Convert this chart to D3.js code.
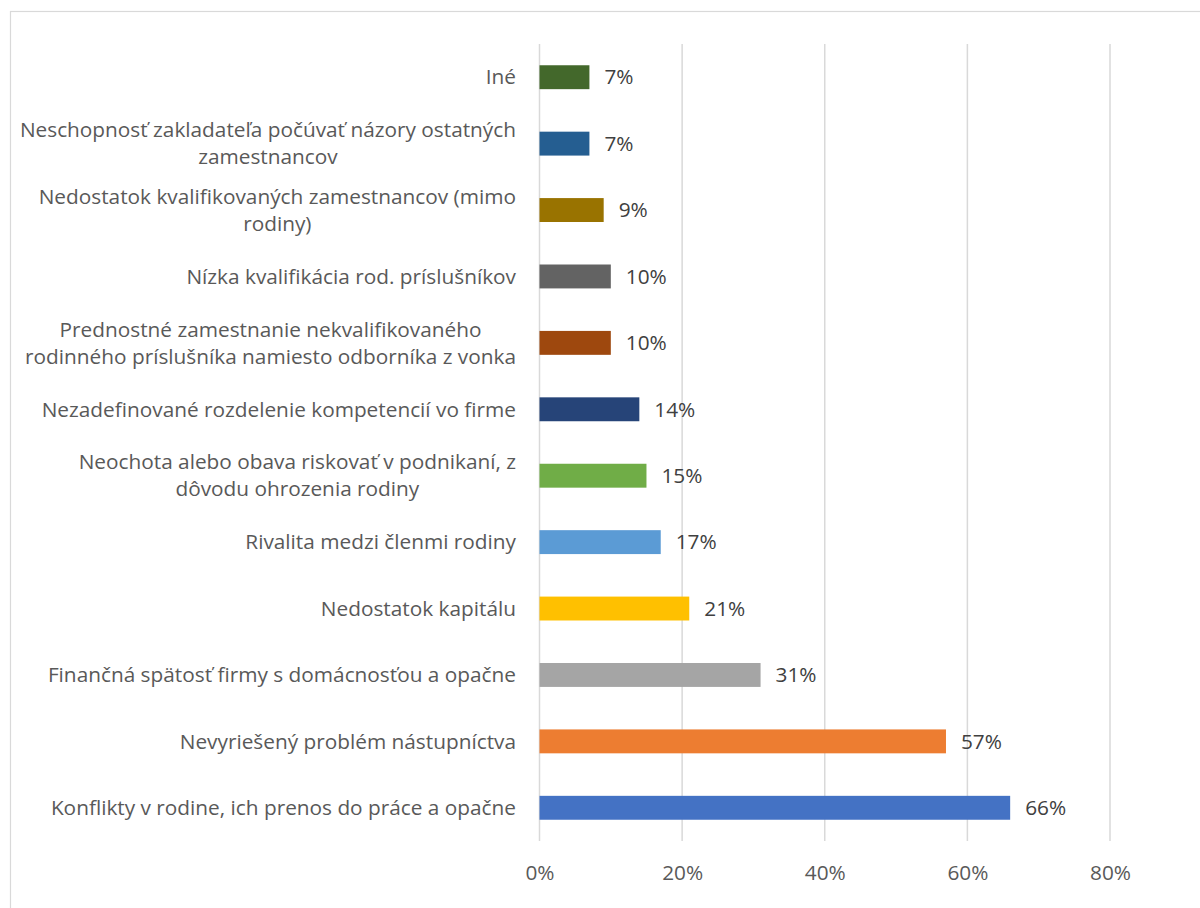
<!DOCTYPE html>
<html>
<head>
<meta charset="utf-8">
<script src="https://cdn.jsdelivr.net/npm/d3@7/dist/d3.min.js"></script>
<style>
  html, body { margin: 0; padding: 0; background: #fff; }
  svg { display: block; }
  text { font-family: "Open Sans", Lato, sans-serif; }
</style>
</head>
<body>
<svg id="chart" width="1200" height="908"></svg>
<script>
// Categories, top to bottom; "\n" marks where a label wraps.
const categories = [
  "Iné",
  "Neschopnosť zakladateľa počúvať názory ostatných\nzamestnancov",
  "Nedostatok kvalifikovaných zamestnancov (mimo\nrodiny)",
  "Nízka kvalifikácia rod. príslušníkov",
  "Prednostné zamestnanie nekvalifikovaného\nrodinného príslušníka namiesto odborníka z vonka",
  "Nezadefinované rozdelenie kompetencií vo firme",
  "Neochota alebo obava riskovať v podnikaní, z\ndôvodu ohrozenia rodiny",
  "Rivalita medzi členmi rodiny",
  "Nedostatok kapitálu",
  "Finančná spätosť firmy s domácnosťou a opačne",
  "Nevyriešený problém nástupníctva",
  "Konflikty v rodine, ich prenos do práce a opačne"
];
// Share of respondents, percent
const values = [7, 7, 9, 10, 10, 14, 15, 17, 21, 31, 57, 66];
const colors = [
  "#43682B", "#255E91", "#997300", "#636363", "#9E480E", "#264478",
  "#70AD47", "#5B9BD5", "#FFC000", "#A5A5A5", "#ED7D31", "#4472C4"
];
const ticks = [0, 20, 40, 60, 80];

const svg = d3.select("#chart");
const plot = { left: 539.5, right: 1110, top: 44, bottom: 841 };
const fontSize = 20.8;

// chart frame
svg.append("rect")
  .attr("x", 10.5).attr("y", 11.5)
  .attr("width", 1400).attr("height", 1200)
  .attr("fill", "#fff")
  .attr("stroke", "#d9d9d9").attr("stroke-width", 1.2);

const x = d3.scaleLinear().domain([0, 80]).range([plot.left, plot.right]);
const y = d3.scaleBand().domain(d3.range(categories.length))
  .range([plot.top, plot.bottom]).paddingInner(0.64).paddingOuter(0.32);

// vertical gridlines
svg.append("g").selectAll("line").data(ticks).join("line")
  .attr("x1", d => x(d)).attr("x2", d => x(d))
  .attr("y1", plot.top).attr("y2", plot.bottom)
  .attr("stroke", "#d9d9d9").attr("stroke-width", 1.5);

// x axis tick labels
const xAxis = d3.axisBottom(x).tickValues(ticks).tickFormat(d => d + "%").tickSize(0).tickPadding(0);
const gx = svg.append("g").attr("transform", `translate(0,${plot.bottom + 24})`).call(xAxis);
gx.select(".domain").remove();
gx.selectAll("text")
  .attr("fill", "#595959").attr("font-size", fontSize)
  .attr("font-family", "'Open Sans', sans-serif")
  .attr("dy", "0.35em").attr("y", 8);

// bars
svg.append("g").selectAll("rect").data(values).join("rect")
  .attr("x", x(0))
  .attr("y", (d, i) => y(i))
  .attr("width", d => x(d) - x(0))
  .attr("height", y.bandwidth())
  .attr("fill", (d, i) => colors[i]);

// value labels
svg.append("g").selectAll("text").data(values).join("text")
  .attr("x", d => x(d) + 15)
  .attr("y", (d, i) => y(i) + y.bandwidth() / 2)
  .attr("dy", "0.35em")
  .attr("font-size", fontSize)
  .attr("fill", "#404040")
  .text(d => d + "%");

// category labels: block right-aligned to the axis, lines centred within the block
const labelRight = 516;
const lineGap = 27;
const catG = svg.append("g");
categories.forEach((c, i) => {
  const lines = c.split("\n");
  const cy = y(i) + y.bandwidth() / 2;
  const t = catG.append("text")
    .attr("font-size", fontSize)
    .attr("fill", "#595959")
    .attr("text-anchor", "middle");
  const spans = lines.map((ln, k) => t.append("tspan")
    .attr("y", cy + (k - (lines.length - 1) / 2) * lineGap)
    .attr("dy", "0.35em")
    .text(ln));
  const w = d3.max(spans, s => s.node().getComputedTextLength());
  spans.forEach(s => s.attr("x", labelRight - w / 2));
});
</script>
</body>
</html>
